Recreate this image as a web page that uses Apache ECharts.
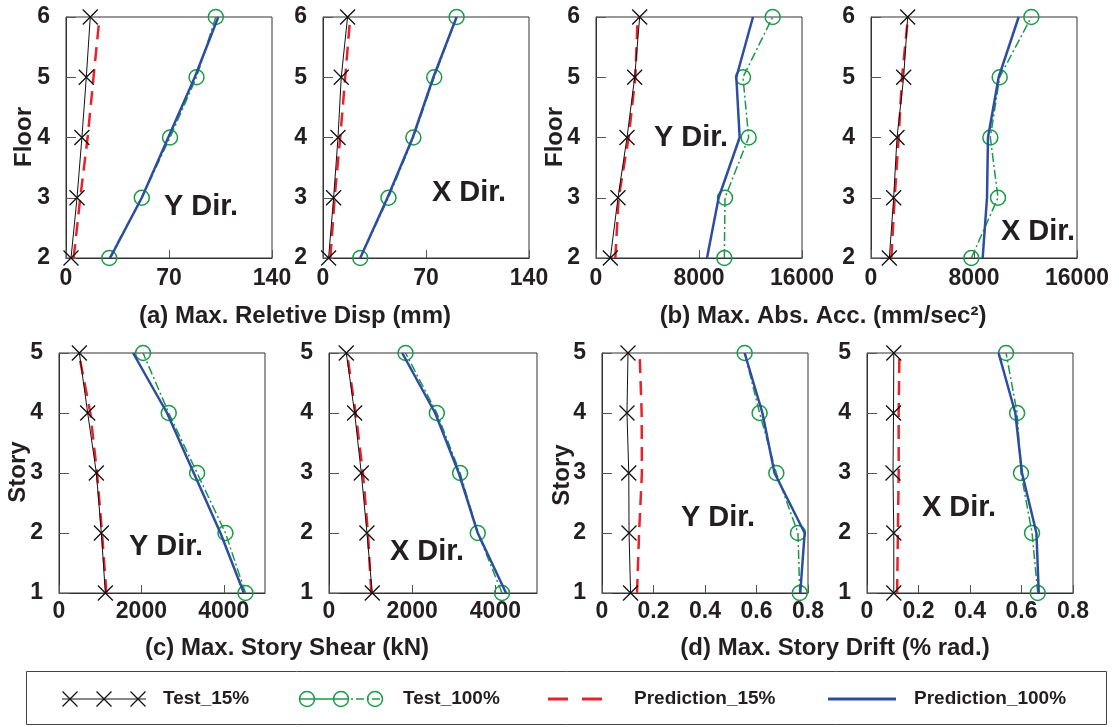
<!DOCTYPE html>
<html><head><meta charset="utf-8">
<script src="https://cdn.jsdelivr.net/npm/echarts@6/dist/echarts.min.js"></script>
<style>html,body{margin:0;padding:0;background:#fff}#c{width:1119px;height:727px}</style>
</head><body><div id="c"></div>
<script>
// ---------- DATA ----------
const floors  = [2, 3, 4, 5, 6];
const stories = [1, 2, 3, 4, 5];

// (a) Max. relative displacement (mm), Y dir
const dispY_test15  = [3.4, 7.5, 10.8, 13.8, 16.5];
const dispY_test100 = [29.4, 51.5, 70.7, 88.7, 101.8];
const dispY_pred15  = [5.2, 9.7, 14.7, 18.7, 22.8];
const dispY_pred100 = [30, 51.5, 69.5, 87.5, 103.5];
// (a) X dir
const dispX_test15  = [3.8, 7.2, 10.2, 12.4, 16.7];
const dispX_test100 = [25.3, 44.5, 61.4, 75.6, 90.8];
const dispX_pred15  = [5, 7.9, 11.7, 15.1, 18.5];
const dispX_pred100 = [25.3, 43.8, 61, 75, 90.8];

// (b) Max. absolute acceleration (mm/sec2), Y dir
const accY_test15  = [1113, 1709, 2408, 3003, 3392];
const accY_test100 = [9968, 10019, 11857, 11417, 13722];
const accY_pred15  = [1500, 1760, 2537, 3055, 3236];
const accY_pred100 = [8621, 9527, 11158, 10900, 12194];
// (b) X dir
const accX_test15  = [1424, 1760, 2019, 2537, 2848];
const accX_test100 = [7793, 9864, 9269, 9994, 12453];
const accX_pred15  = [1579, 1838, 2149, 2408, 2874];
const accX_pred100 = [8673, 9010, 9087, 9916, 11469];

// (c) Max. story shear (kN), Y dir
const shearY_test15  = [1125, 1028, 907, 696, 494];
const shearY_test100 = [4526, 4040, 3352, 2664, 2040];
const shearY_pred15  = [1150, 1045, 923, 761, 478];
const shearY_pred100 = [4486, 3919, 3271, 2623, 1798];
// (c) X dir
const shearX_test15  = [1040, 912, 776, 616, 416];
const shearX_test100 = [4160, 3576, 3152, 2592, 1840];
const shearX_pred15  = [1016, 936, 816, 640, 432];
const shearX_pred100 = [4256, 3576, 3120, 2552, 1760];

// (d) Max. story drift (% rad.), Y dir
const driftY_test15  = [0.111, 0.105, 0.104, 0.097, 0.101];
const driftY_test100 = [0.768, 0.761, 0.677, 0.612, 0.554];
const driftY_pred15  = [0.136, 0.144, 0.155, 0.154, 0.146];
const driftY_pred100 = [0.770, 0.787, 0.670, 0.623, 0.554];
// (d) X dir
const driftX_test15  = [0.104, 0.104, 0.101, 0.103, 0.104];
const driftX_test100 = [0.663, 0.641, 0.598, 0.583, 0.540];
const driftX_pred15  = [0.117, 0.120, 0.123, 0.123, 0.126];
const driftX_pred100 = [0.667, 0.658, 0.602, 0.576, 0.511];

const seriesNames = ['Test_15%', 'Test_100%', 'Prediction_15%', 'Prediction_100%'];
const dirLabels = ['Y Dir.', 'X Dir.', 'Y Dir.', 'X Dir.', 'Y Dir.', 'X Dir.', 'Y Dir.', 'X Dir.'];
const xTitles = ['(a) Max. Reletive Disp (mm)', '(b) Max. Abs. Acc. (mm/sec\u00B2)', '(c) Max. Story Shear (kN)', '(d) Max. Story Drift (% rad.)'];
const yTitles = ['Floor', 'Floor', 'Story', 'Story'];

// ---------- PANELS ----------
const panelData = [
  {lv: floors,  s: [dispY_test15, dispY_test100, dispY_pred15, dispY_pred100], x: [0, 140, 70]},
  {lv: floors,  s: [dispX_test15, dispX_test100, dispX_pred15, dispX_pred100], x: [0, 140, 70]},
  {lv: floors,  s: [accY_test15, accY_test100, accY_pred15, accY_pred100], x: [0, 16000, 8000]},
  {lv: floors,  s: [accX_test15, accX_test100, accX_pred15, accX_pred100], x: [0, 16000, 8000]},
  {lv: stories, s: [shearY_test15, shearY_test100, shearY_pred15, shearY_pred100], x: [0, 5000, 2000]},
  {lv: stories, s: [shearX_test15, shearX_test100, shearX_pred15, shearX_pred100], x: [0, 5000, 2000]},
  {lv: stories, s: [driftY_test15, driftY_test100, driftY_pred15, driftY_pred100], x: [0, 0.8, 0.2]},
  {lv: stories, s: [driftX_test15, driftX_test100, driftX_pred15, driftX_pred100], x: [0, 0.8, 0.2]}
];

// layout (pixels)
const gridPos = [
  {left: 66, top: 17, width: 206, height: 241},
  {left: 323, top: 17, width: 206, height: 241},
  {left: 596, top: 17, width: 206, height: 241},
  {left: 871, top: 17, width: 206, height: 241},
  {left: 59, top: 353, width: 206, height: 240},
  {left: 329, top: 353, width: 208, height: 240},
  {left: 602, top: 353, width: 206, height: 240},
  {left: 867, top: 353, width: 206, height: 240}
];
const dirPos = [[201, 207], [469, 193], [691, 138], [1038, 232], [166, 547], [427, 552], [718, 518], [959, 508]];
const xTitlePos = [[295, 316], [823, 316], [287, 648], [835, 648]];
const yTitlePos = [[24, 137], [555, 137], [18, 472], [562, 475]];

const FONT = '"Liberation Sans", Arial, sans-serif';
const TXT = '#231f20';
const C_BLACK = '#111', C_GREEN = '#1a9a46', C_RED = '#e8212b', C_BLUE = '#2d4ea0';
const X_PATH = 'path://M0,0L20,20M20,0L0,20';
const DASHDOT = [9, 3, 2, 3];

const grids = [], xAxes = [], yAxes = [], series = [], graphics = [];

panelData.forEach((p, i) => {
  grids.push(Object.assign({show: true, borderColor: '#333', borderWidth: 1, containLabel: false}, gridPos[i]));
  const row = i < 4 ? 0 : 1;
  xAxes.push({
    gridIndex: i, type: 'value', min: p.x[0], max: p.x[1], interval: p.x[2],
    axisLine: {show: true, lineStyle: {color: '#333', width: 1}},
    axisTick: {show: true, inside: true, length: 8, lineStyle: {color: '#555'}},
    splitLine: {show: false},
    axisLabel: {
      color: TXT, fontSize: 23, fontWeight: 'bold', fontFamily: FONT,
      margin: row === 0 ? 9 : 7,
      showMaxLabel: (i === 4 || i === 5) ? false : true,
      formatter: v => String(v)
    }
  });
  yAxes.push({
    gridIndex: i, type: 'value', min: p.lv[0], max: p.lv[p.lv.length - 1], interval: 1,
    axisLine: {show: true, lineStyle: {color: '#333', width: 1}},
    axisTick: {show: true, inside: true, length: 10, lineStyle: {color: '#555'}},
    splitLine: {show: false},
    axisLabel: {color: TXT, fontSize: 23, fontWeight: 'bold', fontFamily: FONT, margin: 16}
  });
  const pairs = arr => arr.map((v, k) => [v, p.lv[k]]);
  series.push({
    name: seriesNames[2], type: 'line', xAxisIndex: i, yAxisIndex: i, data: pairs(p.s[2]),
    showSymbol: false, lineStyle: {color: C_RED, width: 2.5, type: [14, 8]}, z: 2
  });
  series.push({
    name: seriesNames[0], type: 'line', xAxisIndex: i, yAxisIndex: i, data: pairs(p.s[0]),
    symbol: X_PATH, symbolSize: 15,
    itemStyle: {color: 'none', borderColor: C_BLACK, borderWidth: 1.3},
    lineStyle: {color: C_BLACK, width: 1}, z: 3
  });
  series.push({
    name: seriesNames[1], type: 'line', xAxisIndex: i, yAxisIndex: i, data: pairs(p.s[1]),
    symbol: 'circle', symbolSize: 15,
    itemStyle: {color: 'rgba(0,0,0,0)', borderColor: C_GREEN, borderWidth: 1.5},
    lineStyle: {color: C_GREEN, width: 1.5, type: DASHDOT}, z: 3
  });
  series.push({
    name: seriesNames[3], type: 'line', xAxisIndex: i, yAxisIndex: i, data: pairs(p.s[3]),
    showSymbol: false, lineStyle: {color: C_BLUE, width: 2.5}, z: 4
  });
  graphics.push({
    type: 'text', x: dirPos[i][0], y: dirPos[i][1], z: 100,
    style: {text: dirLabels[i], fill: TXT, fontSize: 29, fontWeight: 'bold', fontFamily: FONT, align: 'center', verticalAlign: 'middle'}
  });
});

xTitles.forEach((t, i) => graphics.push({
  type: 'text', x: xTitlePos[i][0], y: xTitlePos[i][1],
  style: {text: t, fill: TXT, fontSize: 24, fontWeight: 'bold', fontFamily: FONT, align: 'center', verticalAlign: 'middle'}
}));
yTitles.forEach((t, i) => graphics.push({
  type: 'text', x: yTitlePos[i][0], y: yTitlePos[i][1], rotation: Math.PI / 2,
  style: {text: t, fill: TXT, fontSize: 24, fontWeight: 'bold', fontFamily: FONT, align: 'center', verticalAlign: 'middle'}
}));

// ---------- LEGEND (drawn) ----------
const LY = 699;
const legendFont = {fill: TXT, fontSize: 19, fontWeight: 'bold', fontFamily: FONT, verticalAlign: 'middle'};
graphics.push({type: 'rect', shape: {x: 26.5, y: 671.5, width: 1080, height: 53}, style: {fill: 'none', stroke: '#444', lineWidth: 1}});
// Test_15%
graphics.push({type: 'line', shape: {x1: 62, y1: LY, x2: 146, y2: LY}, style: {stroke: C_BLACK, lineWidth: 1}});
[70, 104, 138].forEach(cx => {
  graphics.push({type: 'line', shape: {x1: cx - 7.5, y1: LY - 7.5, x2: cx + 7.5, y2: LY + 7.5}, style: {stroke: C_BLACK, lineWidth: 1.3}});
  graphics.push({type: 'line', shape: {x1: cx + 7.5, y1: LY - 7.5, x2: cx - 7.5, y2: LY + 7.5}, style: {stroke: C_BLACK, lineWidth: 1.3}});
});
graphics.push({type: 'text', x: 163, y: LY, style: Object.assign({text: seriesNames[0]}, legendFont)});
// Test_100%
graphics.push({type: 'line', shape: {x1: 299, y1: LY, x2: 340, y2: LY}, style: {stroke: C_GREEN, lineWidth: 1.5}});
graphics.push({type: 'line', shape: {x1: 340, y1: LY, x2: 383, y2: LY}, style: {stroke: C_GREEN, lineWidth: 1.5, lineDash: [8, 3, 2, 3]}});
[307, 341, 375].forEach(cx => graphics.push({type: 'circle', shape: {cx: cx, cy: LY, r: 7.5}, style: {fill: 'none', stroke: C_GREEN, lineWidth: 1.5}}));
graphics.push({type: 'text', x: 403, y: LY, style: Object.assign({text: seriesNames[1]}, legendFont)});
// Prediction_15%
graphics.push({type: 'line', shape: {x1: 548, y1: LY, x2: 568, y2: LY}, style: {stroke: C_RED, lineWidth: 3}});
graphics.push({type: 'line', shape: {x1: 582, y1: LY, x2: 602, y2: LY}, style: {stroke: C_RED, lineWidth: 3}});
graphics.push({type: 'text', x: 634, y: LY, style: Object.assign({text: seriesNames[2]}, legendFont)});
// Prediction_100%
graphics.push({type: 'line', shape: {x1: 828, y1: LY, x2: 896, y2: LY}, style: {stroke: C_BLUE, lineWidth: 3}});
graphics.push({type: 'text', x: 914, y: LY, style: Object.assign({text: seriesNames[3]}, legendFont)});

const chart = echarts.init(document.getElementById('c'), null, {renderer: 'canvas'});
chart.setOption({
  animation: false,
  backgroundColor: '#fff',
  grid: grids, xAxis: xAxes, yAxis: yAxes, series: series, graphic: graphics
});
</script></body></html>
